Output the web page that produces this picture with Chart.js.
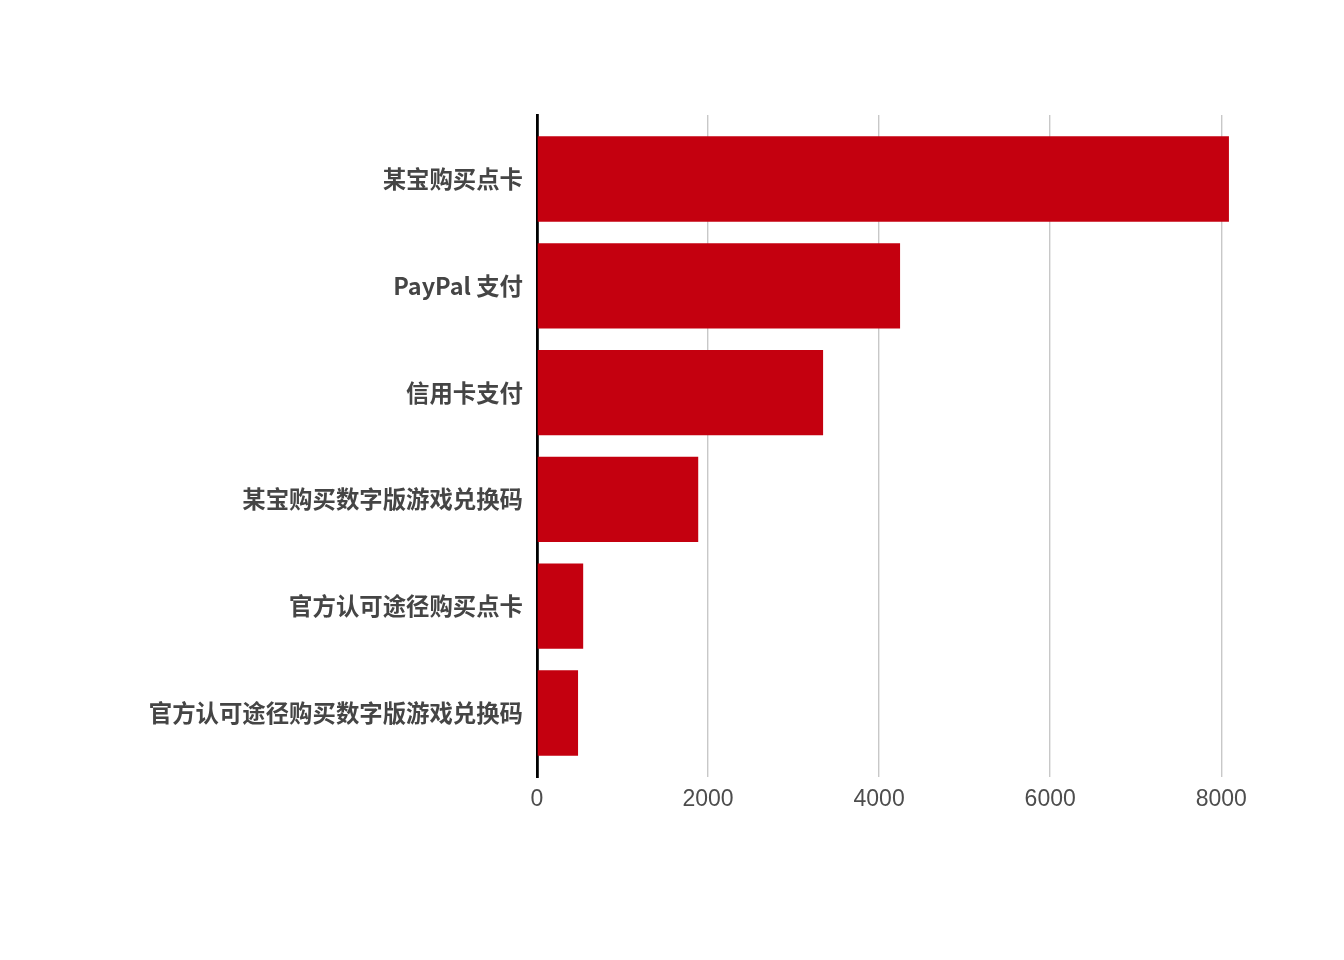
<!DOCTYPE html>
<html>
<head>
<meta charset="utf-8">
<script src="https://cdn.jsdelivr.net/npm/chart.js@4"></script>
<style>
  html, body { margin: 0; padding: 0; background: #ffffff; }
  #wrap { width: 1344px; height: 960px; position: relative; }
</style>
</head>
<body>
<div id="wrap"><canvas id="c" width="1344" height="960"></canvas></div>
<script>
const categories = [
  '某宝购买点卡',
  'PayPal 支付',
  '信用卡支付',
  '某宝购买数字版游戏兑换码',
  '官方认可途径购买点卡',
  '官方认可途径购买数字版游戏兑换码'
];
const counts = [8090, 4245, 3345, 1885, 540, 480];
const xTicks = [0, 2000, 4000, 6000, 8000];

const barData = counts.map((v, i) => ({ x: v, y: i }));

new Chart(document.getElementById('c'), {
  type: 'bar',
  data: {
    datasets: [{
      data: barData,
      backgroundColor: '#c4000f',
      borderWidth: 0,
      categoryPercentage: 1.0,
      barPercentage: 0.8
    }]
  },
  options: {
    indexAxis: 'y',
    responsive: false,
    animation: false,
    devicePixelRatio: 1,
    layout: { padding: { left: 0, top: 115, right: 80, bottom: 133 } },
    plugins: { legend: { display: false }, tooltip: { enabled: false } },
    scales: {
      y: {
        type: 'linear',
        reverse: true,
        offset: false,
        min: -0.6,
        max: categories.length - 0.4,
        afterBuildTicks: (scale) => { scale.ticks = categories.map((_, i) => ({ value: i })); },
        afterFit: (scale) => { scale.width = 537; },
        grid: { display: false, drawTicks: false, offset: false },
        border: { display: true, color: '#000000', width: 2.8 },
        ticks: {
          padding: 14,
          color: '#454545',
          font: { family: '"Noto Sans CJK SC", sans-serif', size: 23.4, weight: '700' },
          callback: (v) => categories[v]
        }
      },
      x: {
        type: 'linear',
        min: 0,
        max: 8500,
        afterBuildTicks: (scale) => { scale.ticks = xTicks.map(v => ({ value: v })); },
        afterFit: (scale) => { scale.height = 50; },
        grid: {
          drawTicks: false,
          color: (ctx) => (ctx.tick && ctx.tick.value === 0) ? 'rgba(0,0,0,0)' : '#c8c8c8',
          lineWidth: 1.4
        },
        border: { display: false },
        ticks: {
          padding: 9,
          color: '#4d4d4d',
          font: { family: '"Liberation Sans", Arial, sans-serif', size: 23 },
          callback: (v) => String(v)
        }
      }
    }
  }
});
</script>
</body>
</html>
